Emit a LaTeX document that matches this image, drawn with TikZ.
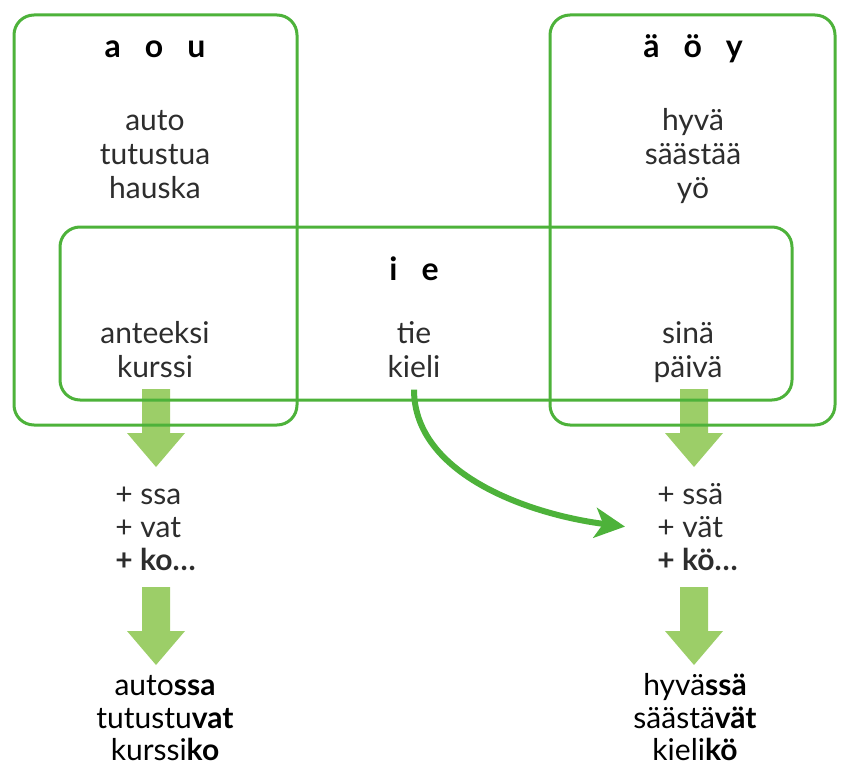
\documentclass[tikz,border=0pt]{standalone}
\usepackage{fontspec}
\setmainfont{Lato}
\usetikzlibrary{arrows.meta}
\definecolor{boxgreen}{RGB}{77,178,58}
\definecolor{pale}{RGB}{156,206,104}
\definecolor{ink}{RGB}{45,45,45}
\tikzset{
  word/.style={font=\fontsize{15}{17}\selectfont, text=ink, anchor=base, inner sep=0pt},
  head/.style={word, font=\fontsize{16}{17}\selectfont\bfseries, text=black},
  plus/.style={word, anchor=base west},
  vbox/.style={draw=boxgreen, line width=1.5pt, rounded corners=10pt},
  fat/.style={fill=pale},
}
\begin{document}
\begin{tikzpicture}[x=0.5pt,y=-0.5pt]
    \useasboundingbox (0,0) rectangle (845,765);
    % broad arrows
    \foreach \x/\y in {156/389,156/587,694/389,694/587}
      \fill[fat] (\x-14,\y) -- (\x+14,\y) -- (\x+14,\y+44) -- (\x+29,\y+44) -- (\x,\y+78) -- (\x-29,\y+44) -- (\x-14,\y+44) -- cycle;
    % boxes
    \draw[vbox] (14,15) rectangle (297,425);
    \draw[vbox] (550,15) rectangle (835,425);
    \draw[vbox] (60,227) rectangle (792,400);
    % a o u
    \node[head] (aou) at (155,58) {a\hspace{0.75em}o\hspace{0.75em}u};
    \node[word] (auto) at (155,130) {auto};
    \node[word] (tutustua) at (155,164) {tutustua};
    \node[word] (hauska) at (155,198) {hauska};
    \node[word] (anteeksi) at (155,343) {anteeksi};
    \node[word] (kurssi) at (155,377) {kurssi};
    % i e
    \node[head] (ie) at (414,280) {i\hspace{0.75em}e};
    \node[word] (tie) at (414,343) {tie};
    \node[word] (kieli) at (414,377) {kieli};
    % ä ö y
    \node[head] (aoy) at (693,58) {ä\hspace{0.75em}ö\hspace{0.75em}y};
    \node[word] (hyva) at (693,130) {hyvä};
    \node[word] (saastaa) at (693,164) {säästää};
    \node[word] (yo) at (693,198) {yö};
    \node[word] (sina) at (688,343) {sinä};
    \node[word] (paiva) at (688,377) {päivä};
    % endings
    \node[plus] (lssa) at (115,504) {+ ssa};
    \node[plus] (lvat) at (115,537) {+ vat};
    \node[plus] (lko) at (115,570) {\bfseries + ko…};
    \node[plus] (rssa) at (657,504) {+ ssä};
    \node[plus] (rvat) at (657,537) {+ vät};
    \node[plus] (rko) at (657,570) {\bfseries + kö…};
    % results
    \node[word, text=black] (autossa) at (165,695) {auto\textbf{ssa}};
    \node[word, text=black] (tutustuvat) at (165,728) {tutustu\textbf{vat}};
    \node[word, text=black] (kurssiko) at (165,760) {kurssi\textbf{ko}};
    \node[word, text=black] (hyvassa) at (695,695) {hyvä\textbf{ssä}};
    \node[word, text=black] (saastavat) at (695,728) {säästä\textbf{vät}};
    \node[word, text=black] (kieliko) at (695,760) {kieli\textbf{kö}};
    % curved arrow
    \coordinate (tip) at ([xshift=-16pt]rvat.west);
    \draw[boxgreen, line width=3pt, -{Stealth[length=15pt,width=15pt,inset=4pt]}]
      ([yshift=-6pt]kieli.south) .. controls +(0,85) and +(-95,-12) .. (tip);
\end{tikzpicture}
\end{document}
